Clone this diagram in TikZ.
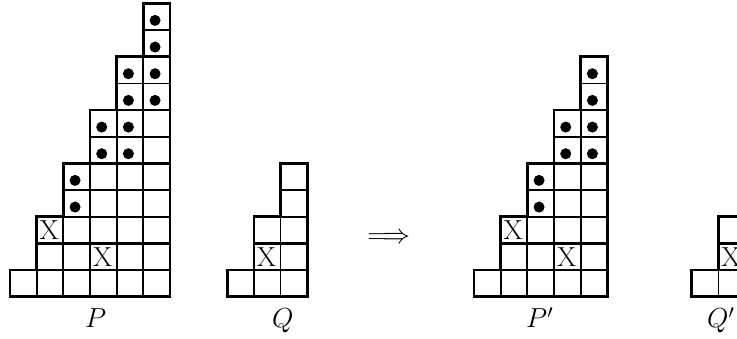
\RequirePackage{fix-cm}
\documentclass[tikz,border=0pt]{standalone}
\newcommand\cs{26.667}
\newcommand\yb{296.7}
\newcommand\stairgrid[2]{%
  \foreach \i in {1,...,#2}{%
    \pgfmathtruncatemacro\hh{2*\i-1}%
    \foreach \j in {1,...,\hh}{%
      \draw[gridthin] ({#1+(\i-1)*\cs},{\yb-(\j-1)*\cs}) rectangle ({#1+\i*\cs},{\yb-\j*\cs});
    }%
  }%
  \foreach \k/\st in {2/2,5/3,7/4,9/5}{%
    \ifnum\st>#2\relax\else
      \draw[gridthick] ({#1+(\st-1)*\cs},{\yb-\k*\cs}) -- ({#1+#2*\cs},{\yb-\k*\cs});
    \fi
  }%
  \draw[gridthick,line join=miter] (#1,\yb) -- ++(0,-\cs) -- ++(\cs,0)
    \foreach \i in {2,...,#2}{ -- ++(0,{-2*\cs}) -- ++(\cs,0) }
    |- (#1,\yb) -- cycle;
}
\newcommand\dotcell[3]{%
  \fill[black] ({#1+(#2-0.5)*\cs-1.6},{\yb-(#3-0.5)*\cs+3.7}) circle (5.5);
}
\begin{document}
\begin{tikzpicture}[x=1pt,y=-1pt,
  gridthin/.style={line width=1.7pt,black},
  gridthick/.style={line width=2.7pt,black},
  bigfont/.style={font=\fontsize{27.5}{30}\selectfont, inner sep=0pt},
  xmark/.style={bigfont},
  lbl/.style={bigfont, anchor=base west}]
\useasboundingbox (0,0) rectangle (737,339);
\begin{scope}
\clip (0,0) rectangle (737,339);
% P
\stairgrid{10}{6}
\foreach \c/\r in {6/11,6/10,5/9,6/9,5/8,6/8,4/7,5/7,4/6,5/6,3/5,3/4}{\dotcell{10}{\c}{\r}}
\node[xmark] (px1) at ({10+1.5*\cs-0.8},{\yb-2.5*\cs}) {X};
\node[xmark] (px2) at ({10+3.5*\cs-0.8},{\yb-1.5*\cs}) {X};
\node[lbl] (lp) at (85,328) {$P$};
% Q
\stairgrid{227.3}{3}
\node[xmark] (qx1) at ({227.3+1.5*\cs-0.8},{\yb-1.5*\cs}) {X};
\node[lbl] (lq) at (272,328) {$Q$};
% arrow
\node[bigfont, anchor=base] (arr) at (388.7,243.9) {$\Longrightarrow$};
% P'
\stairgrid{474}{5}
\foreach \c/\r in {5/9,5/8,4/7,5/7,4/6,5/6,3/5,3/4}{\dotcell{474}{\c}{\r}}
\node[xmark] (ppx1) at ({474+1.5*\cs-0.8},{\yb-2.5*\cs}) {X};
\node[xmark] (ppx2) at ({474+3.5*\cs-0.8},{\yb-1.5*\cs}) {X};
\node[lbl] (lpp) at (526,328) {$P'$};
% Q'
\stairgrid{691.7}{2}
\node[xmark] (qqx1) at ({691.7+1.5*\cs-0.8},{\yb-1.5*\cs}) {X};
\node[lbl] (lqq) at (707,328) {$Q'$};
\end{scope}
\end{tikzpicture}
\end{document}
